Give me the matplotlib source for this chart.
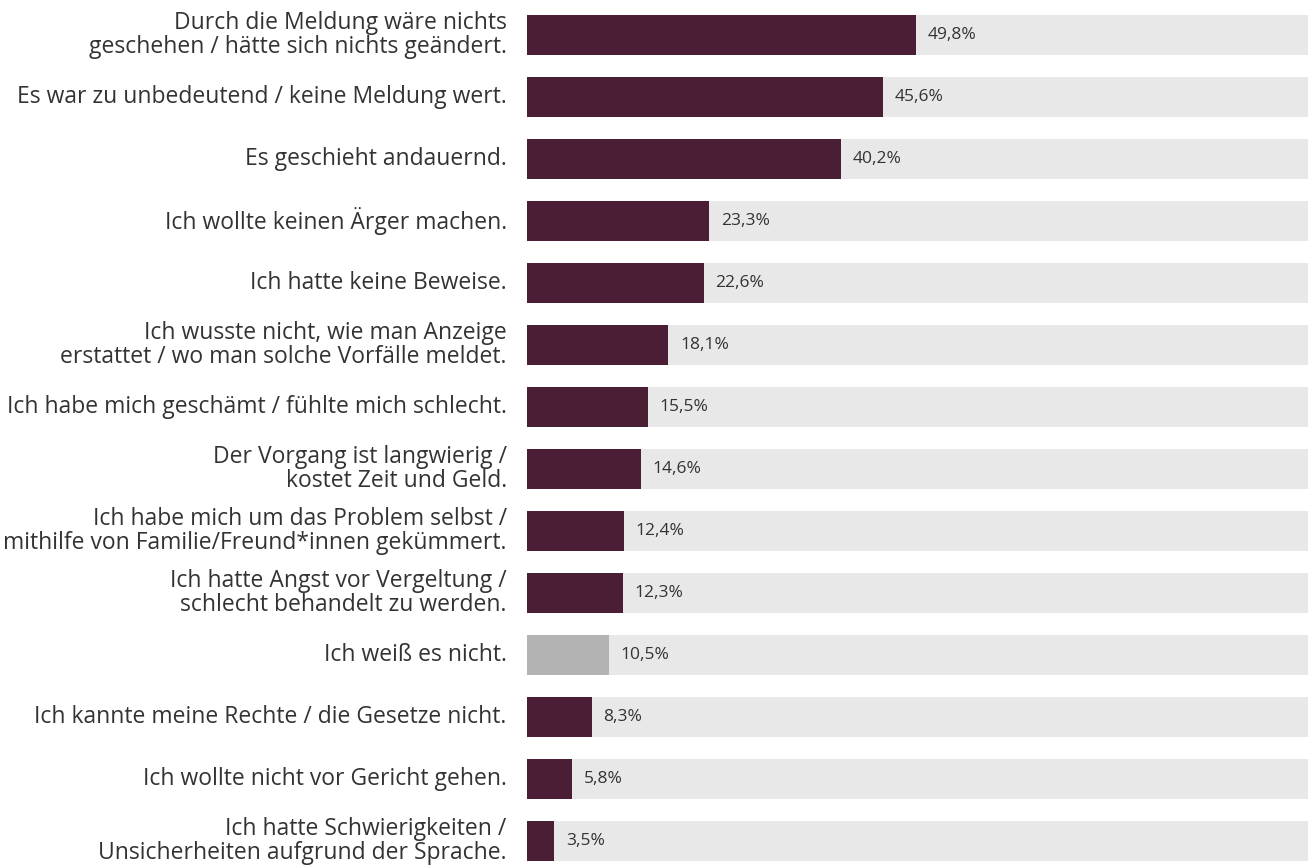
import matplotlib.pyplot as plt

labels = [
    'Durch die Meldung wäre nichts\ngeschehen / hätte sich nichts geändert.',
    'Es war zu unbedeutend / keine Meldung wert.',
    'Es geschieht andauernd.',
    'Ich wollte keinen Ärger machen.',
    'Ich hatte keine Beweise.',
    'Ich wusste nicht, wie man Anzeige\nerstattet / wo man solche Vorfälle meldet.',
    'Ich habe mich geschämt / fühlte mich schlecht.',
    'Der Vorgang ist langwierig /\nkostet Zeit und Geld.',
    'Ich habe mich um das Problem selbst /\nmithilfe von Familie/Freund*innen gekümmert.',
    'Ich hatte Angst vor Vergeltung /\nschlecht behandelt zu werden.',
    'Ich weiß es nicht.',
    'Ich kannte meine Rechte / die Gesetze nicht.',
    'Ich wollte nicht vor Gericht gehen.',
    'Ich hatte Schwierigkeiten /\nUnsicherheiten aufgrund der Sprache.',
]
values = [49.8, 45.6, 40.2, 23.3, 22.6, 18.1, 15.5, 14.6, 12.4, 12.3, 10.5, 8.3, 5.8, 3.5]
dont_know = 'Ich weiß es nicht.'

MAROON = '#4a1f35'
GREY = '#b3b3b3'
BG = '#e8e8e8'
TEXT = '#333333'

plt.rcParams['font.family'] = ['Open Sans', 'DejaVu Sans']

fig = plt.figure(figsize=(13.08, 8.67), dpi=100)
W, H = 1308, 867
ax = fig.add_axes([527 / W, 0, 1 - 527 / W, 1])

ypos = list(range(len(labels)))
colors = [GREY if l == dont_know else MAROON for l in labels]
ax.barh(ypos, [100] * len(labels), height=0.66, color=BG, linewidth=0)
ax.barh(ypos, values, height=0.66, color=colors, linewidth=0)

for y, v in zip(ypos, values):
    ax.text(v + 1.5, y, '{:.1f}%'.format(v).replace('.', ','),
            va='center', ha='left', fontsize=12.5, color=TEXT)

for y, l in zip(ypos, labels):
    ax.text(-2.6, y, l, va='center', ha='right', fontsize=16.5, color=TEXT,
            linespacing=1.05)

ax.set_xlim(0, 100)
ax.set_ylim((867 - 35) / 62, -35 / 62)
ax.axis('off')

fig.savefig('out.png', dpi=100)
